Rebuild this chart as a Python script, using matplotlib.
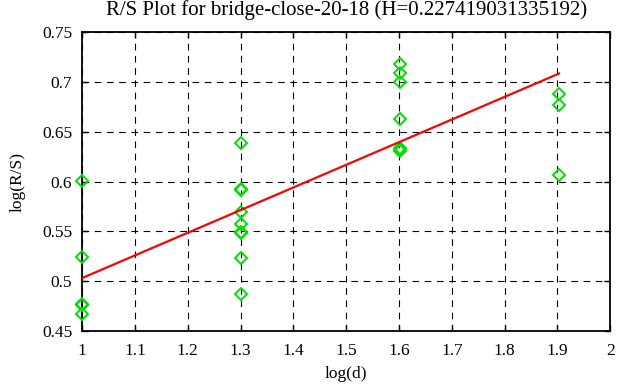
import matplotlib
matplotlib.use('Agg')
import matplotlib.pyplot as plt
import numpy as np

# log(d) groups and log(R/S) values
d_values = [10, 20, 40, 80]
rs_d10 = [0.601, 0.524, 0.477, 0.476, 0.467]
rs_d20 = [0.639, 0.592, 0.591, 0.569, 0.557, 0.549, 0.548, 0.523, 0.487]
rs_d40 = [0.718, 0.709, 0.700, 0.663, 0.634, 0.632, 0.631]
rs_d80 = [0.688, 0.677, 0.607]

H = 0.227419031335192
intercept = 0.2756

xticks = [1, 1.1, 1.2, 1.3, 1.4, 1.5, 1.6, 1.7, 1.8, 1.9, 2]
xticklabels = ['1', '1.1', '1.2', '1.3', '1.4', '1.5', '1.6', '1.7', '1.8', '1.9', '2']
yticks = [0.45, 0.5, 0.55, 0.6, 0.65, 0.7, 0.75]
yticklabels = ['0.45', '0.5', '0.55', '0.6', '0.65', '0.7', '0.75']

plt.rcParams['font.family'] = ['Liberation Serif', 'DejaVu Serif']
plt.rcParams['font.size'] = 12.5

fig = plt.figure(figsize=(6.17, 3.87), dpi=100)
ax = fig.add_axes([0.133, 0.145, 0.856, 0.772])

xs = []
ys = []
for d, vals in zip(d_values, [rs_d10, rs_d20, rs_d40, rs_d80]):
	for v in vals:
		xs.append(np.log10(d))
		ys.append(v)
xs = np.array(xs)
ys = np.array(ys)

ax.plot(xs, ys, linestyle='none', marker='D', markersize=6.5, clip_on=False,
	markerfacecolor='none', markeredgecolor='#00e000', markeredgewidth=1.4, zorder=3)

lx = np.array([xs.min(), xs.max()])
ax.plot(lx, intercept + H * lx, color='red', linewidth=1.6, zorder=4)

ax.set_xlim(1, 2)
ax.set_ylim(0.45, 0.75)
ax.set_xticks(xticks)
ax.set_xticklabels(xticklabels)
ax.set_yticks(yticks)
ax.set_yticklabels(yticklabels)
ax.grid(True, color='black', linestyle=(0, (6, 5)), linewidth=0.8)
ax.tick_params(direction='in', length=4, width=1, top=True, right=True)
ax.tick_params(axis='x', pad=9)
ax.tick_params(axis='y', pad=7)
for s in ax.spines.values():
	s.set_linewidth(1.3)

ax.set_xlabel('log(d)', labelpad=5)
ax.set_ylabel('log(R/S)', labelpad=12)
ax.set_title('R/S Plot for bridge-close-20-18 (H=0.227419031335192)', pad=12)

plt.savefig('out.png', dpi=100)
